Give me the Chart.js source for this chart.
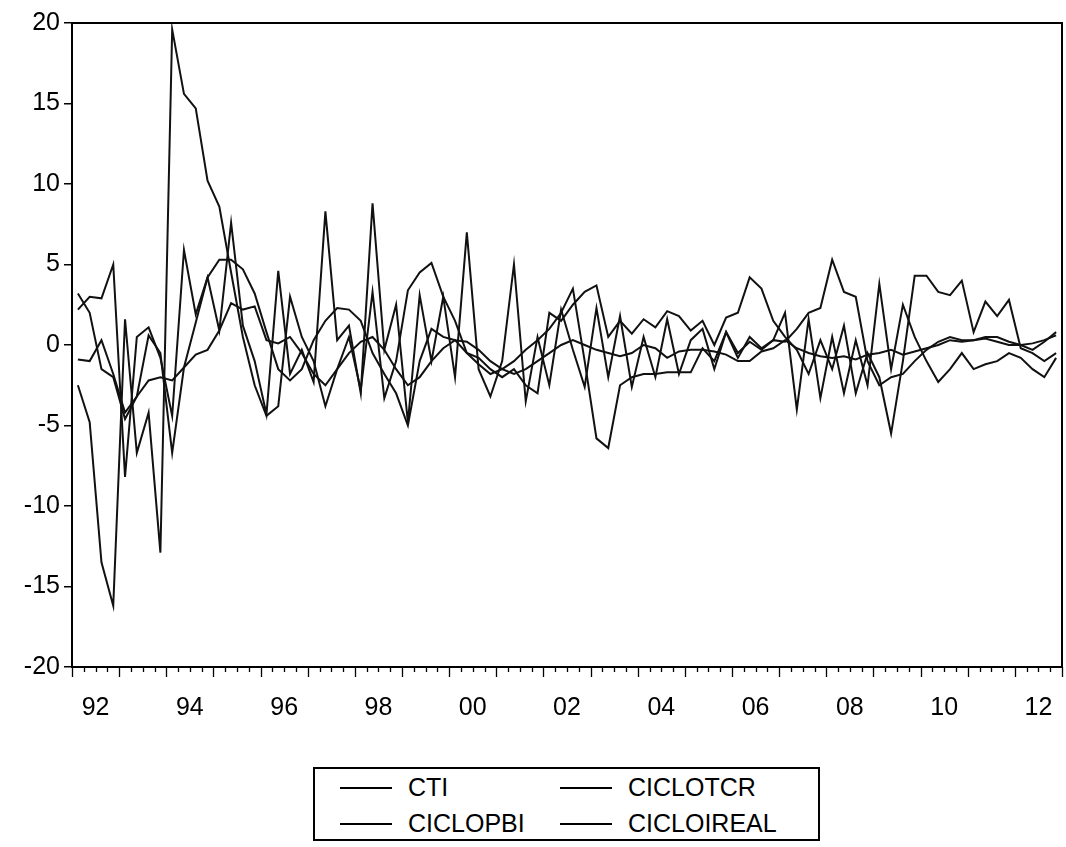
<!DOCTYPE html>
<html>
<head>
<meta charset="utf-8">
<script src="https://cdn.jsdelivr.net/npm/chart.js@4/dist/chart.umd.min.js"></script>
<style>
  body { margin: 0; background: #fff; font-family: "Liberation Sans", Arial, sans-serif; }
  #wrap { position: relative; width: 1066px; height: 847px; }
  #chart { position: absolute; left: 0; top: 0; }
  #legend {
    position: absolute; left: 313px; top: 767px; width: 507px; height: 74px;
    border: 2px solid #000; box-sizing: border-box;
  }
  .item { position: absolute; display: flex; align-items: center; font-size: 25px; color: #000; }
  .item span.swatch { display: inline-block; width: 52px; height: 2px; background: #000; margin-right: 16px; }
</style>
</head>
<body>
<div id="wrap">
  <canvas id="chart" width="1066" height="760"></canvas>
  <div id="legend"></div>
</div>
<script>
// -------- DATA --------
// quarterly, 1992Q1 .. 2012Q4 (84 obs)
const yearLabels = ['92', '94', '96', '98', '00', '02', '04', '06', '08', '10', '12'];
const seriesNames = ['CTI', 'CICLOTCR', 'CICLOPBI', 'CICLOIREAL'];

const cti = [
    2.2, 3.0, 2.9, 5.0,   -8.2, 0.5, 1.1, -0.8,   -4.4, 5.9, 1.9, 4.2,   0.9, 7.6, 1.2, -1.0,
    -4.3, 4.6, -1.8, -0.3,   -2.3, 8.3, 0.3, 1.2,   -3.0, 8.8, -0.3, 2.5,   -4.8, 3.1, -1.0, 3.0,
    -2.0, 7.0, -1.5, -3.2,   -1.0, 5.0, -3.5, 0.5,   -2.5, 2.2, -0.3, -2.6,   2.3, -2.0, 1.8, -2.6,
    0.5, -2.0, 1.6, -1.8,   0.3, 1.0, -1.5, 0.8,   -0.8, 0.5, -0.2, 0.3,   2.0, -4.0, 1.6, -3.3,
    0.5, -3.0, 0.3, -2.5,   3.8, -1.5, 2.5, 0.5,   -1.0, -2.3, -1.5, -0.5,   -1.5, -1.2, -1.0, -0.5,
    -0.8, -1.5, -2.0, -0.8
];
const cicloTcr = [
    3.2, 2.0, -1.5, -2.0,   -4.6, -3.2, 0.6, -0.5,   -6.7, -1.4, 1.4, 4.2,   5.3, 5.3, 4.7, 3.2,
    0.8, -1.5, -2.2, -1.5,   0.3, 1.5, 2.3, 2.2,   1.5, -0.5, -1.8, -3.0,   -5.0, -1.0, 1.0, 0.5,
    0.3, -0.5, -1.2, -1.8,   -1.5, -1.0, -0.3, 0.3,   1.0, 2.0, 3.5, -1.0,   -5.8, -6.4, -2.5, -2.0,
    -1.8, -1.8, -1.7, -1.7,   -1.7, -0.2, -1.0, 0.8,   -0.5, 0.2, -0.3, 0.3,   0.2, 1.0, 2.0, 2.3,
    5.3, 3.3, 3.0, -1.0,   -2.5, -2.0, -1.8, -1.0,   -0.3, 0.2, 0.5, 0.3,   0.3, 0.5, 0.5, 0.2,
    0.0, -0.3, 0.2, 0.8
];
const cicloPbi = [
    -0.9, -1.0, 0.3, -1.8,   -4.2, -3.2, -2.2, -2.0,   -2.2, -1.4, -0.6, -0.3,   0.9, 2.6, 2.2, 2.4,
    0.3, 0.1, 0.5, -0.5,   -1.8, -2.5, -1.5, -0.5,   0.2, 0.5, -0.3, -1.5,   -2.5, -2.0, -1.0, -0.2,
    0.3, 0.2, -0.3, -1.0,   -1.5, -1.8, -1.5, -1.0,   -0.5, 0.0, 0.3, 0.0,   -0.3, -0.5, -0.7, -0.5,
    0.0, -0.2, -0.8, -0.4,   -0.3, -0.3, -0.4, -0.6,   -1.0, -1.0, -0.4, -0.2,   0.3, -0.2, -0.5, -0.7,
    -0.8, -0.7, -0.9, -0.6,   -0.5, -0.3, -0.6, -0.4,   -0.2, 0.0, 0.3, 0.2,   0.3, 0.4, 0.2, 0.0,
    0.0, 0.1, 0.3, 0.6
];
const cicloIreal = [
    -2.5, -4.8, -13.5, -16.2,   1.6, -6.7, -4.2, -12.9,   19.6, 15.6, 14.7, 10.2,   8.6, 4.5, 0.5, -2.5,
    -4.4, -3.8, 3.0, 0.5,   -1.0, -3.8, -1.5, 0.5,   -2.8, 3.3, -3.3, -1.0,   3.4, 4.5, 5.1, 3.0,
    1.5, -0.5, -0.8, -1.5,   -2.0, -1.5, -2.5, -3.0,   2.0, 1.5, 2.5, 3.3,   3.7, 0.5, 1.5, 0.7,
    1.6, 1.1, 2.1, 1.8,   0.9, 1.5, 0.0, 1.7,   2.0, 4.2, 3.5, 1.5,   0.5, -0.3, -1.8, 0.3,
    -1.5, 1.2, -3.0, -0.5,   -2.0, -5.5, -1.0, 4.3,   4.3, 3.3, 3.1, 4.0,   0.8, 2.7, 1.8, 2.8,
    -0.2, -0.5, -1.0, -0.5
];
const yTicks = [-20, -15, -10, -5, 0, 5, 10, 15, 20];
// -------- END DATA --------

const FONT = { family: '"Liberation Sans", Arial, sans-serif', size: 25 };

function toPoints(values) {
    // observation i is drawn at the middle of its quarter
    return values.map((v, i) => ({ x: i + 0.5, y: v }));
}

function makeDataset(label, values) {
    return {
        label: label,
        data: toPoints(values),
        borderColor: '#111',
        borderWidth: 2,
        pointRadius: 0,
        tension: 0,
        fill: false
    };
}

// frame around the plot + quarter/year tick marks on the time axis
const framePlugin = {
    id: 'frame',
    afterDraw(chart) {
        const { ctx, chartArea } = chart;
        const xs = chart.scales.x;
        ctx.save();
        ctx.strokeStyle = '#000';
        ctx.lineWidth = 2;
        ctx.strokeRect(chartArea.left, chartArea.top, chartArea.right - chartArea.left, chartArea.bottom - chartArea.top);
        ctx.lineWidth = 1.3;
        ctx.beginPath();
        for (let k = 0; k <= cti.length; k++) {
            const px = Math.round(xs.getPixelForValue(k)) + 0.5;
            const len = k % 4 === 0 ? 10 : 5;
            ctx.moveTo(px, chartArea.bottom);
            ctx.lineTo(px, chartArea.bottom + len);
        }
        ctx.stroke();
        ctx.restore();
    }
};

const chart = new Chart(document.getElementById('chart'), {
    type: 'line',
    data: {
        datasets: [
            makeDataset(seriesNames[0], cti),
            makeDataset(seriesNames[1], cicloTcr),
            makeDataset(seriesNames[2], cicloPbi),
            makeDataset(seriesNames[3], cicloIreal)
        ]
    },
    options: {
        responsive: false,
        animation: false,
        layout: { padding: { top: 23, right: 4, left: 0, bottom: 0 } },
        plugins: {
            legend: { display: false },
            tooltip: { enabled: false }
        },
        scales: {
            x: {
                type: 'linear',
                min: 0,
                max: cti.length,
                // invisible tick marks only push the labels down; real marks come from framePlugin
                grid: { drawOnChartArea: false, drawTicks: true, tickLength: 26, tickColor: 'rgba(0,0,0,0)' },
                border: { display: false },
                afterBuildTicks: scale => {
                    scale.ticks = yearLabels.map((_, j) => ({ value: 2 + j * 8 }));
                },
                afterFit: scale => { scale.height = 93; },
                ticks: {
                    autoSkip: false,
                    maxRotation: 0,
                    padding: 0,
                    color: '#000',
                    font: FONT,
                    callback: v => yearLabels[(v - 2) / 8]
                }
            },
            y: {
                min: -20,
                max: 20,
                afterBuildTicks: scale => {
                    scale.ticks = yTicks.map(v => ({ value: v }));
                },
                afterFit: scale => { scale.width = 72; },
                grid: { drawOnChartArea: false, tickLength: 8, color: '#000', lineWidth: 1.5 },
                border: { display: false },
                ticks: { padding: 4, color: '#000', font: FONT }
            }
        }
    },
    plugins: [framePlugin]
});

// -------- LEGEND --------
const legendBox = document.getElementById('legend');
const legendPos = [
    { left: 25, top: 4 },   // CTI
    { left: 245, top: 4 },  // CICLOTCR
    { left: 25, top: 40 },  // CICLOPBI
    { left: 245, top: 40 }  // CICLOIREAL
];
chart.data.datasets.forEach((ds, i) => {
    const item = document.createElement('div');
    item.className = 'item';
    item.style.left = legendPos[i].left + 'px';
    item.style.top = legendPos[i].top + 'px';
    item.innerHTML = '<span class="swatch"></span>' + ds.label;
    legendBox.appendChild(item);
});
// -------- END LEGEND --------
</script>
</body>
</html>
